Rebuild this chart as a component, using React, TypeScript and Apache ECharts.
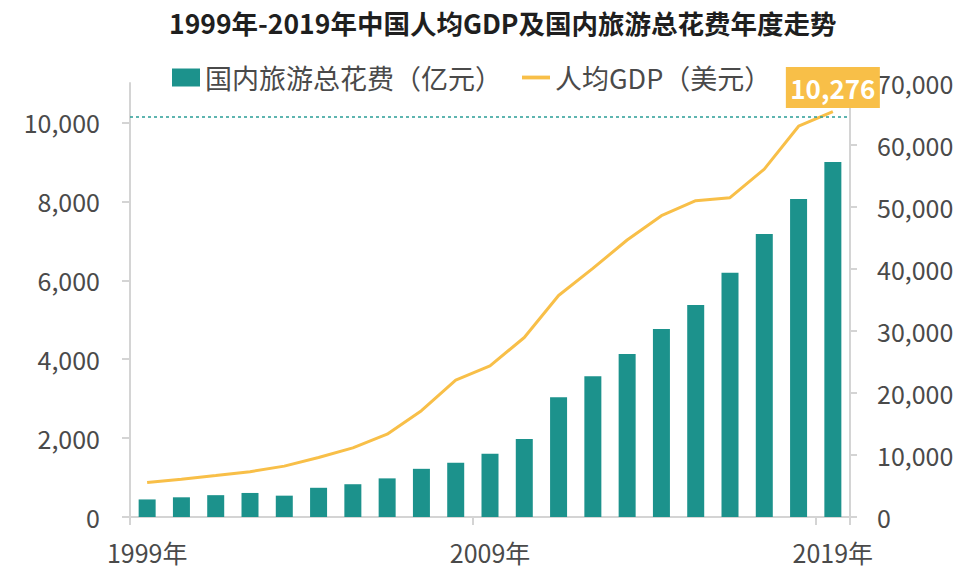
import React, { useEffect, useRef } from "react";
import * as echarts from "echarts";

const years = [
  "1999年", "2000年", "2001年", "2002年", "2003年", "2004年", "2005年",
  "2006年", "2007年", "2008年", "2009年", "2010年", "2011年", "2012年",
  "2013年", "2014年", "2015年", "2016年", "2017年", "2018年", "2019年",
];
// 国内旅游总花费（亿元）
const spending = [
  2832, 3176, 3522, 3878, 3442, 4711, 5286, 6230, 7771, 8749, 10184,
  12580, 19305, 22706, 26276, 30312, 34195, 39390, 45661, 51278, 57251,
];
// 人均GDP（美元）
const gdpPerCapita = [
  873, 959, 1053, 1149, 1289, 1509, 1753, 2099, 2694, 3468, 3832,
  4550, 5614, 6301, 7020, 7636, 8016, 8094, 8817, 9905, 10276,
];
const refLineValue = 10140;

const FONT = '"Noto Sans CJK SC", "Noto Sans", sans-serif';
const TEAL = "#1C928C";
const GOLD = "#F8BF48";
const AXIS = "#d4d4d4";
const TXT = "#4a4a4a";

const fmt = (v: number) => v.toLocaleString("en-US");

export default function App() {
  const ref = useRef<HTMLDivElement>(null);
  useEffect(() => {
    if (!ref.current) return;
    const chart = echarts.init(ref.current, undefined, { renderer: "svg" });
    const last = gdpPerCapita.length - 1;
    chart.setOption({
      animation: false,
      textStyle: { fontFamily: FONT },
      title: {
        text: "1999年-2019年中国人均GDP及国内旅游总花费年度走势",
        left: 164,
        top: 4,
        textStyle: { fontSize: 26.5, fontWeight: "bold", color: "#1f1f1f", fontFamily: FONT },
      },
      legend: {
        left: 167,
        top: 59,
        itemWidth: 28,
        itemHeight: 18,
        itemGap: 20,
        textStyle: { fontSize: 27, color: TXT, fontFamily: FONT },
        data: [
          { name: "国内旅游总花费（亿元）", icon: "rect" },
          { name: "人均GDP（美元）", icon: "path://M0,0 H26 V3.5 H0 Z" },
        ],
      },
      grid: { left: 130, right: 114, top: 83, bottom: 55 },
      xAxis: {
        type: "category",
        data: years,
        boundaryGap: true,
        axisLine: { show: true, lineStyle: { color: AXIS, width: 2 } },
        axisTick: { show: true, length: 8, lineStyle: { color: AXIS, width: 2 } },
        axisLabel: { interval: 9, fontSize: 25, color: TXT, margin: 22, fontFamily: FONT },
      },
      yAxis: [
        {
          type: "value",
          position: "left",
          min: 0,
          max: 11000,
          interval: 2000,
          splitLine: { show: false },
          axisLine: { show: true, lineStyle: { color: AXIS, width: 2 } },
          axisTick: { show: true, length: 8, lineStyle: { color: AXIS, width: 2 } },
          axisLabel: {
            showMaxLabel: false,
            fontSize: 25,
            color: TXT,
            margin: 30,
            fontFamily: FONT,
            formatter: (v: number) => (v > 10000 ? "" : fmt(v)),
          },
        },
        {
          type: "value",
          position: "right",
          min: 0,
          max: 70000,
          interval: 10000,
          splitLine: { show: false },
          axisLine: { show: true, lineStyle: { color: AXIS, width: 2 } },
          axisTick: { show: true, length: 7, lineStyle: { color: AXIS, width: 2 } },
          axisLabel: { fontSize: 25, color: TXT, margin: 27, fontFamily: FONT, formatter: fmt },
        },
      ],
      series: [
        {
          name: "国内旅游总花费（亿元）",
          type: "bar",
          yAxisIndex: 1,
          data: spending,
          barWidth: 17,
          itemStyle: { color: TEAL },
        },
        {
          name: "人均GDP（美元）",
          type: "line",
          yAxisIndex: 0,
          symbol: "none",
          lineStyle: { color: GOLD, width: 3 },
          itemStyle: { color: GOLD },
          data: gdpPerCapita,
          markLine: {
            silent: true,
            symbol: "none",
            label: { show: false },
            lineStyle: { color: "#2a9d96", type: [3, 3], width: 1.5 },
            data: [{ yAxis: refLineValue }],
          },
          markPoint: {
            silent: true,
            symbol: "rect",
            symbolSize: [94, 41],
            symbolOffset: [0, -24],
            itemStyle: { color: GOLD },
            label: {
              show: true,
              color: "#fff",
              fontSize: 26,
              fontWeight: "bold",
              fontFamily: FONT,
              formatter: () => fmt(gdpPerCapita[last]),
            },
            data: [{ coord: [years[last], gdpPerCapita[last]], value: gdpPerCapita[last] }],
          },
          z: 3,
        },
      ],
    });
    return () => chart.dispose();
  }, []);
  return (
    <div
      ref={ref}
      style={{ position: "absolute", left: 0, top: 0, width: 964, height: 572 }}
    />
  );
}
